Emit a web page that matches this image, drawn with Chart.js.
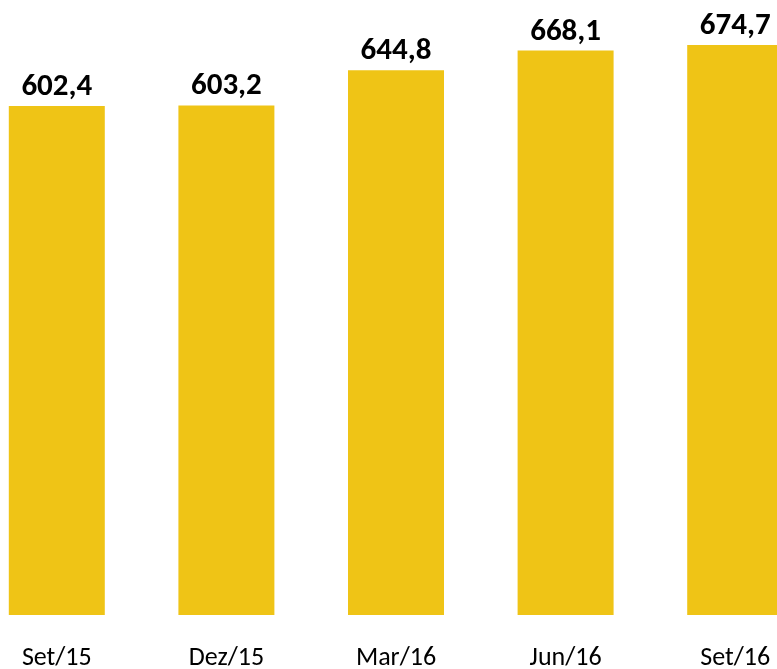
<!DOCTYPE html>
<html>
<head>
<meta charset="utf-8">
<script src="https://cdn.jsdelivr.net/npm/chart.js@4/dist/chart.umd.min.js"></script>
<style>
    html, body { margin: 0; padding: 0; background: #fff; overflow: hidden; }
    #quarterChart { position: absolute; left: -28px; top: 0; }
</style>
</head>
<body>
<canvas id="quarterChart" width="848" height="669"></canvas>
<script>
const quarters = ['Set/15', 'Dez/15', 'Mar/16', 'Jun/16', 'Set/16'];
const totals = [602.4, 603.2, 644.8, 668.1, 674.7];
const axisMax = 728;

// draws the value above each bar, with a comma as decimal mark
const valueLabels = {
    id: 'valueLabels',
    afterDatasetsDraw(chart) {
        const ctx = chart.ctx;
        const meta = chart.getDatasetMeta(0);
        ctx.save();
        ctx.font = 'bold 31px Carlito, Lato, sans-serif';
        ctx.fillStyle = '#000';
        ctx.textAlign = 'center';
        ctx.textBaseline = 'alphabetic';
        meta.data.forEach((bar, i) => {
            const txt = totals[i].toFixed(1).replace('.', ',');
            ctx.fillText(txt, bar.x, bar.y - 11);
        });
        ctx.restore();
    }
};

const ctx = document.getElementById('quarterChart').getContext('2d');
new Chart(ctx, {
    type: 'bar',
    data: {
        labels: quarters,
        datasets: [{
            data: totals,
            backgroundColor: '#EFC416',
            categoryPercentage: 1,
            barPercentage: 0.566
        }]
    },
    options: {
        responsive: false,
        animation: false,
        layout: { padding: 0 },
        scales: {
            x: {
                grid: { display: false, drawTicks: false },
                border: { display: false },
                ticks: {
                    color: '#000',
                    padding: 32,
                    font: { family: 'Carlito, Lato, sans-serif', size: 26, lineHeight: '22px' }
                },
                afterFit(scale) { scale.height = 54; }
            },
            y: {
                display: false,
                min: 0,
                max: axisMax
            }
        },
        plugins: {
            legend: { display: false },
            tooltip: { enabled: false }
        }
    },
    plugins: [valueLabels]
});
</script>
</body>
</html>
